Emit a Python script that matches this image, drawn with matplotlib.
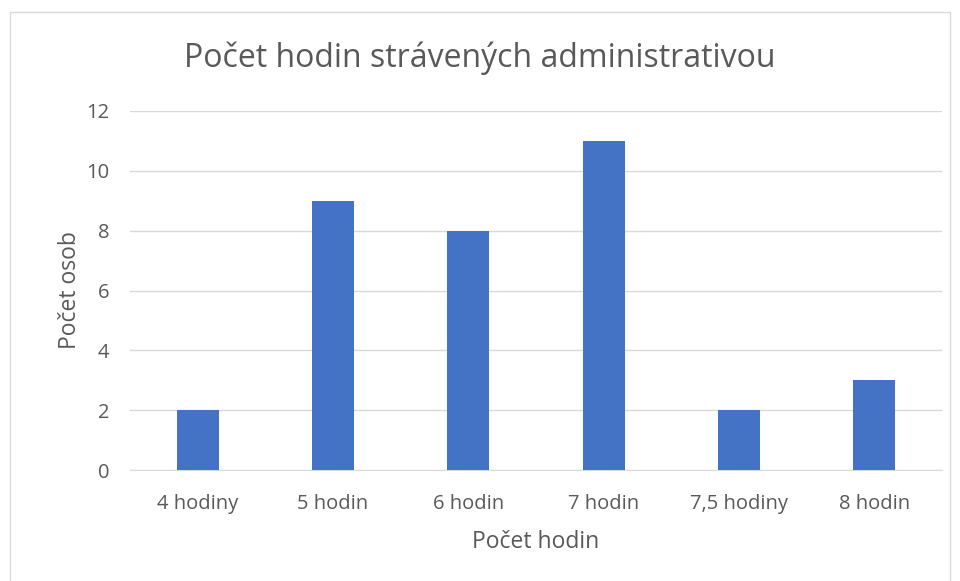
import matplotlib
matplotlib.use("Agg")
import matplotlib.pyplot as plt
from matplotlib.patches import Rectangle

categories = ["4 hodiny", "5 hodin", "6 hodin", "7 hodin", "7,5 hodiny", "8 hodin"]
counts = [2, 9, 8, 11, 2, 3]
y_ticks = [0, 2, 4, 6, 8, 10, 12]

plt.rcParams["font.family"] = ["Open Sans", "DejaVu Sans"]
text_color = "#595959"

fig = plt.figure(figsize=(9.6, 5.81), dpi=100)
ax = fig.add_axes([0.1354, 0.191, 0.8458, 0.618])

# chart border like the office chart frame
fig.patches.append(Rectangle((10 / 960, -0.01), 940 / 960, 1 - 12 / 581 + 0.01,
                             transform=fig.transFigure, fill=False,
                             edgecolor="#D9D9D9", linewidth=1))

x = range(len(categories))
ax.bar(x, counts, width=0.31, color="#4472C4", zorder=3)

ax.set_xlim(-0.5, len(categories) - 0.5)
ax.set_ylim(0, 12)
ax.set_yticks(y_ticks)
ax.set_xticks(list(x))
ax.set_xticklabels(categories)
ax.grid(axis="y", color="#D9D9D9", linewidth=1, zorder=0)

for side in ["top", "right", "left"]:
    ax.spines[side].set_visible(False)
ax.spines["bottom"].set_color("#D9D9D9")
ax.tick_params(axis="both", length=0, labelsize=14.5, colors=text_color)
ax.tick_params(axis="x", pad=17)
ax.tick_params(axis="y", pad=15)

ax.set_xlabel("Počet hodin", fontsize=16.5, color=text_color, labelpad=12)
ax.set_ylabel("Počet osob", fontsize=16.5, color=text_color, labelpad=3)
fig.text(0.5, 1 - 58 / 581, "Počet hodin strávených administrativou",
         ha="center", va="center", fontsize=23, color=text_color)

plt.savefig("out.png", dpi=100)
